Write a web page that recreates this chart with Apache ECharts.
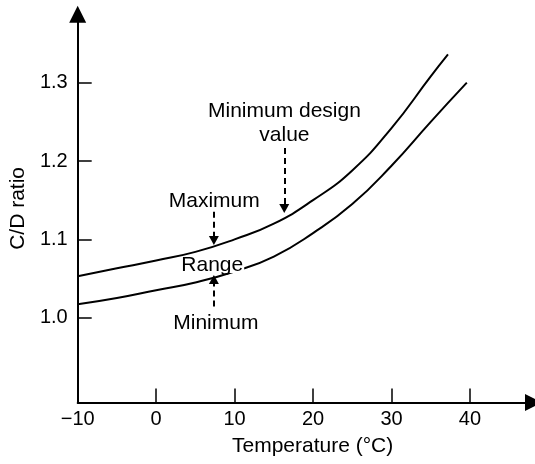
<!DOCTYPE html>
<html>
<head>
<meta charset="utf-8">
<script src="https://cdn.jsdelivr.net/npm/echarts@6/dist/echarts.min.js"></script>
<style>
  html, body { margin: 0; padding: 0; background: #fff; }
  #chart { width: 535px; height: 464px; }
</style>
</head>
<body>
<div id="chart"></div>
<script>
// Upper curve: maximum / minimum design value of the C/D ratio
const upperTemp  = [-10, -5, 0, 5, 10, 15, 20, 25, 30, 35, 37.2];
const upperRatio = [1.053, 1.063, 1.073, 1.084, 1.100, 1.120, 1.150, 1.188, 1.242, 1.308, 1.336];

// Lower curve: minimum of the range
const lowerTemp  = [-10, -5, 0, 5, 10, 15, 20, 25, 30, 35, 39.6];
const lowerRatio = [1.017, 1.025, 1.035, 1.045, 1.059, 1.078, 1.108, 1.145, 1.194, 1.250, 1.300];

// Axis ticks
const xTicks = [-10, 0, 10, 20, 30, 40];
const yTicks = [1.0, 1.1, 1.2, 1.3];

// Callout texts and their anchor points (temperature, ratio)
const calloutText = ['Minimum design\nvalue', 'Maximum', 'Range', 'Minimum'];
const calloutAt   = [[16.35, 1.2484], [7.40, 1.1490], [7.15, 1.0673], [7.61, 0.9935]];

// Dashed pointer arrows: start and end (temperature, ratio)
const pointerFrom = [[16.33, 1.2166], [7.36, 1.1353], [7.36, 1.0143]];
const pointerTo   = [[16.33, 1.1394], [7.36, 1.0986], [7.36, 1.0488]];

const FONT = '"Liberation Sans", Arial, Helvetica, sans-serif';
const zip = (xs, ys) => xs.map((x, i) => [x, ys[i]]);

const chart = echarts.init(document.getElementById('chart'), null, { renderer: 'canvas' });

const curveStyle = { color: '#000', width: 2 };

chart.setOption({
  animation: false,
  backgroundColor: '#fff',
  grid: { left: 76, right: 1.5, top: 14.3, bottom: 61.5, containLabel: false },
  xAxis: {
    type: 'value',
    min: -10,
    max: 48.1,
    name: 'Temperature (°C)',
    nameLocation: 'middle',
    nameGap: 33,
    nameTextStyle: { color: '#000', fontSize: 21, fontFamily: FONT, padding: [0, 0, 0, 14] },
    axisLine: {
      show: true, onZero: false,
      symbol: ['none', 'triangle'], symbolSize: [17, 17],
      lineStyle: { color: '#000', width: 2 }
    },
    axisTick: { show: true, inside: true, length: 14, customValues: xTicks, lineStyle: { color: '#000', width: 1.5 } },
    axisLabel: {
      customValues: xTicks,
      color: '#000', fontSize: 20, fontFamily: FONT, margin: 7,
      formatter: v => (v < 0 ? '\u2212' + Math.abs(v) : String(v))
    },
    splitLine: { show: false }
  },
  yAxis: {
    type: 'value',
    min: 0.8917,
    max: 1.3873,
    name: 'C/D ratio',
    nameLocation: 'middle',
    nameGap: 46,
    nameRotate: 90,
    nameTextStyle: { color: '#000', fontSize: 21, fontFamily: FONT },
    axisLine: {
      show: true, onZero: false,
      symbol: ['none', 'triangle'], symbolSize: [17, 17],
      lineStyle: { color: '#000', width: 2 }
    },
    axisTick: { show: true, inside: true, length: 14, customValues: yTicks, lineStyle: { color: '#000', width: 1.5 } },
    axisLabel: {
      customValues: yTicks,
      color: '#000', fontSize: 20, fontFamily: FONT, margin: 10,
      formatter: v => v.toFixed(1)
    },
    splitLine: { show: false }
  },
  series: [
    {
      name: 'upper',
      type: 'line',
      data: zip(upperTemp, upperRatio),
      smooth: 0.5,
      showSymbol: false,
      lineStyle: curveStyle,
      silent: true,
      markLine: {
        silent: true,
        symbol: ['none', 'triangle'],
        symbolSize: [10, 9],
        label: { show: false },
        lineStyle: { color: '#000', width: 2, type: [6, 4] },
        data: pointerFrom.map((p, i) => [{ coord: p }, { coord: pointerTo[i] }])
      }
    },
    {
      name: 'lower',
      type: 'line',
      data: zip(lowerTemp, lowerRatio),
      smooth: 0.5,
      showSymbol: false,
      lineStyle: curveStyle,
      silent: true
    }
  ]
});

// Callout texts placed in data space
const callouts = calloutText.map((t, i) => {
  const p = chart.convertToPixel({ gridIndex: 0 }, calloutAt[i]);
  const boxed = t === 'Range';
  return {
    type: 'text',
    x: p[0],
    y: p[1],
    z: 20,
    silent: true,
    style: {
      text: t,
      font: '21px ' + FONT,
      fill: '#000',
      align: 'center',
      verticalAlign: 'middle',
      lineHeight: boxed ? 16 : 24,
      backgroundColor: boxed ? '#fff' : null,
      padding: boxed ? [0, 1, 0, 1] : 0
    }
  };
});
chart.setOption({ graphic: callouts });
</script>
</body>
</html>
